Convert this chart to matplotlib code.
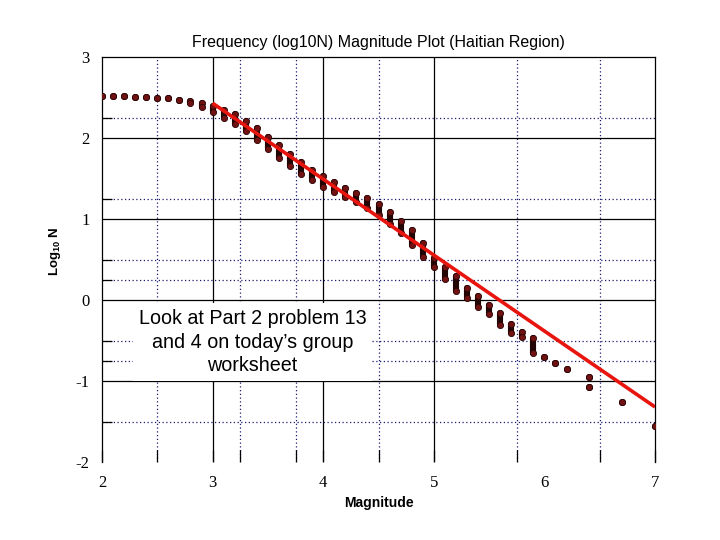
import numpy as np
import matplotlib
matplotlib.use("Agg")
import matplotlib.pyplot as plt

plt.rcParams['axes.unicode_minus'] = False
plt.rcParams['mathtext.fontset'] = 'custom'
plt.rcParams['mathtext.bf'] = 'Liberation Sans:bold'
plt.rcParams['mathtext.rm'] = 'Liberation Sans'
plt.rcParams['mathtext.default'] = 'bf'

# magnitude bins and the top / bottom of each vertical cluster of points
mags = [2.0, 2.1, 2.2, 2.3, 2.4, 2.5, 2.6, 2.7, 2.8, 2.9,
        3.0, 3.1, 3.2, 3.3, 3.4, 3.5, 3.6, 3.7, 3.8, 3.9,
        4.0, 4.1, 4.2, 4.3, 4.4, 4.5, 4.6, 4.7, 4.8, 4.9,
        5.0, 5.1, 5.2, 5.3, 5.4, 5.5, 5.6, 5.7, 5.8, 5.9,
        6.0, 6.1, 6.2, 6.4, 6.4, 6.7, 7.0]
logn_hi = [2.52, 2.52, 2.52, 2.51, 2.51, 2.50, 2.49, 2.47, 2.46, 2.43,
           2.40, 2.35, 2.30, 2.21, 2.12, 2.01, 1.91, 1.80, 1.70, 1.60,
           1.53, 1.46, 1.38, 1.32, 1.26, 1.19, 1.09, 0.98, 0.86, 0.70,
           0.52, 0.41, 0.30, 0.15, 0.05, -0.06, -0.16, -0.30, -0.40, -0.47,
           -0.70, -0.78, -0.85, -0.95, -1.07, -1.26, -1.56]
logn_lo = [2.52, 2.52, 2.52, 2.51, 2.51, 2.50, 2.49, 2.47, 2.43, 2.38,
           2.32, 2.25, 2.17, 2.09, 1.98, 1.86, 1.75, 1.65, 1.56, 1.48,
           1.40, 1.33, 1.27, 1.21, 1.14, 1.05, 0.94, 0.83, 0.68, 0.53,
           0.41, 0.26, 0.11, 0.02, -0.09, -0.17, -0.31, -0.41, -0.46, -0.65,
           -0.70, -0.78, -0.85, -0.95, -1.07, -1.26, -1.56]

# fitted line
fit_x = [3.0, 7.0]
fit_y = [2.43, -1.32]

solid_x = [3, 4, 5]
dotted_x = [2.5, 3.25, 3.75, 4.5, 5.75, 6.5]
solid_y = [2, 1, 0, -1]
dotted_y = [2.25, 1.25, 0.5, 0.25, -0.5, -0.75, -1.5]

fig = plt.figure(figsize=(7.2, 5.4), dpi=100)
ax = fig.add_axes([0.1417, 0.1444, 0.768, 0.75])

for x in solid_x:
    ax.axvline(x, color='black', lw=0.9, zorder=1)
for x in dotted_x:
    ax.axvline(x, color='#1c1c70', lw=0.9, ls=(0, (1, 2)), zorder=1)
for y in solid_y:
    ax.axhline(y, color='black', lw=0.9, zorder=1)
for y in dotted_y:
    ax.axhline(y, color='#1c1c70', lw=0.9, ls=(0, (1, 2)), zorder=1)

ax.vlines(mags, logn_lo, logn_hi, color='#220505', lw=4.4, capstyle='round', zorder=3)
ax.scatter(mags, logn_hi, s=20, c='#701212', edgecolors='#2a0505', linewidths=0.6, zorder=4)
ax.scatter(mags, logn_lo, s=20, c='#701212', edgecolors='#2a0505', linewidths=0.6, zorder=4)

ax.plot(fit_x, fit_y, color='#e8150f', lw=2.6, solid_capstyle='butt', zorder=5)

ax.set_xlim(2, 7)
ax.set_ylim(-2, 3)
ax.set_xticks([2, 3, 4, 5, 6, 7])
ax.set_yticks([3, 2, 1, 0, -1, -2])
ax.set_xticks([2] + solid_x + dotted_x + [7], minor=True)
ax.set_yticks(dotted_y, minor=True)
ax.xaxis.remove_overlapping_locs = False
ax.yaxis.remove_overlapping_locs = False
ax.tick_params(which='major', length=0, labelsize=12, pad=9)
ax.tick_params(which='minor', axis='x', direction='in', length=9, width=0.9, bottom=True)
ax.tick_params(which='minor', axis='y', direction='in', length=7, width=0.9, left=True)
for lab in ax.get_xticklabels() + ax.get_yticklabels():
    lab.set_family('Liberation Serif')

for s in ['top', 'left', 'right']:
    ax.spines[s].set_linewidth(0.9)
ax.spines['bottom'].set_visible(False)

ax.set_title('Frequency (log10N) Magnitude Plot (Haitian Region)',
             family='Liberation Sans', fontsize=11.5, pad=7)
ax.set_xlabel('Magnitude', family='Liberation Sans', fontweight='bold', fontsize=10, labelpad=4)
ax.set_ylabel('Log$_{10}$ N', family='Liberation Sans', fontweight='bold', fontsize=9.5, labelpad=12)
ax.yaxis.set_label_coords(-0.07, 0.52)

ax.text(3.36, -0.52, "Look at Part 2 problem 13\nand 4 on today\u2019s group\nworksheet",
        ha='center', va='center', family='Liberation Sans', fontsize=14.2, linespacing=1.3,
        bbox=dict(boxstyle='square,pad=0.3', facecolor='white', edgecolor='none'), zorder=6)

fig.savefig('out.png', dpi=100)
